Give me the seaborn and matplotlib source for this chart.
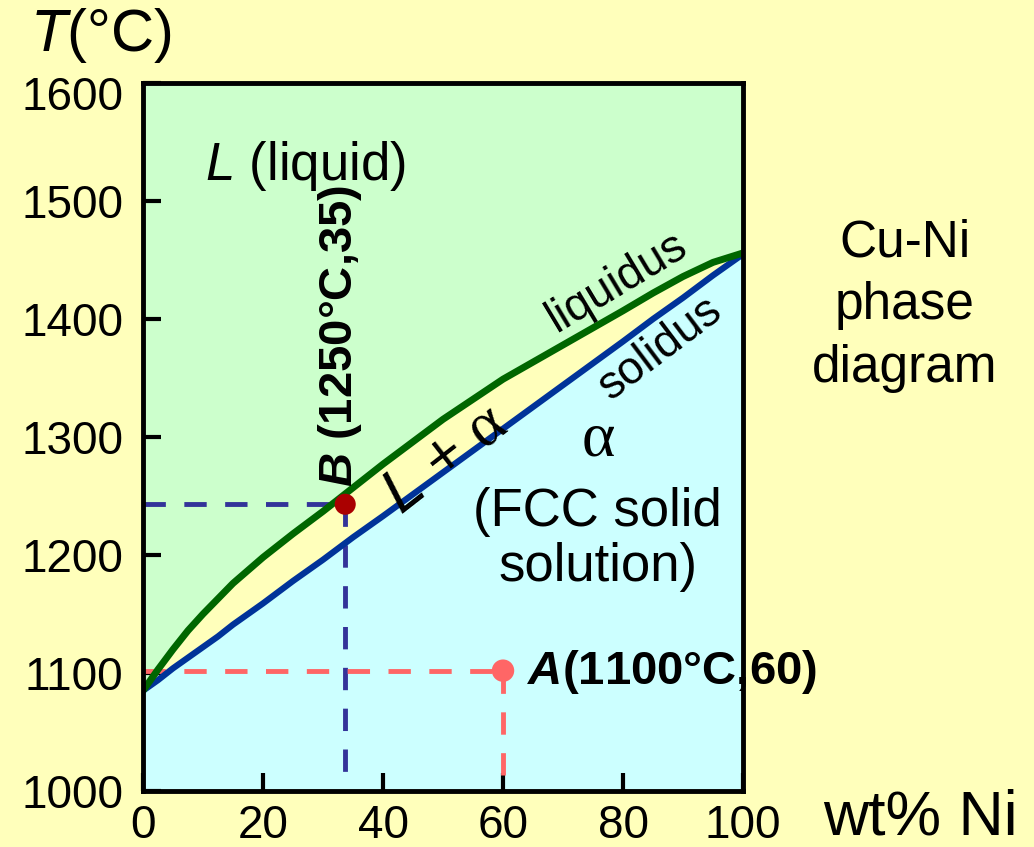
import matplotlib
matplotlib.use("Agg")
import matplotlib.pyplot as plt
import matplotlib.transforms as mtransforms
import seaborn as sns

# Cu-Ni phase diagram
wt_ni = [0, 2.5, 5, 7.5, 10, 12.5, 15, 17.5, 20, 25, 30, 35, 40, 50, 60, 70, 80, 85, 90, 95, 100]
liquidus_T = [1085, 1103, 1120, 1136, 1150, 1163, 1176, 1187, 1198, 1218, 1237, 1257, 1277,
              1315, 1349, 1378, 1407, 1422, 1436, 1448, 1456]
solidus_T = [1085, 1094, 1104, 1113, 1122, 1131, 1141, 1150, 1159, 1178, 1196, 1215, 1233,
             1270, 1307, 1344, 1381, 1400, 1418, 1437, 1455]

point_B = (33.7, 1243)
point_A = (60, 1102)

x_ticks = [0, 20, 40, 60, 80, 100]
y_ticks = [1000, 1100, 1200, 1300, 1400, 1500, 1600]

bg_yellow = "#FFFFBB"
liquid_green = "#CCFFCC"
solid_cyan = "#CCFFFF"

sns.set_style("ticks")
plt.rcParams["font.family"] = ["Liberation Sans", "DejaVu Sans"]
plt.rcParams["text.color"] = "black"
plt.rcParams["xtick.color"] = "black"
plt.rcParams["ytick.color"] = "black"
plt.rcParams["axes.edgecolor"] = "black"
plt.rcParams["mathtext.fontset"] = "custom"
plt.rcParams["mathtext.it"] = "Liberation Sans:italic"
plt.rcParams["mathtext.rm"] = "Liberation Serif"
plt.rcParams["mathtext.bfit"] = "Liberation Sans:italic:bold"

fig = plt.figure(figsize=(10.34, 8.47), dpi=100, facecolor=bg_yellow)
ax = fig.add_axes([0.1383, 0.0661, 0.5803, 0.8359])
ax.set_facecolor(bg_yellow)

# phase regions
ax.fill_between(wt_ni, liquidus_T, 1600, color=liquid_green, lw=0, zorder=0)
ax.fill_between(wt_ni, solidus_T, liquidus_T, color=bg_yellow, lw=0, zorder=0)
ax.fill_between(wt_ni, 1000, solidus_T, color=solid_cyan, lw=0, zorder=0)

# guide lines to points A and B
dash = (4.6, 3.8)
ax.plot([0, point_B[0]], [point_B[1], point_B[1]], color="#333399", lw=3.5,
        dashes=dash, zorder=2)
ax.plot([point_B[0], point_B[0]], [point_B[1], 1005], color="#333399", lw=3.5,
        dashes=dash, zorder=2)
ax.plot([0, point_A[0]], [point_A[1], point_A[1]], color="#FF6666", lw=3.5,
        dashes=dash, zorder=2)
ax.plot([point_A[0], point_A[0]], [point_A[1], 1000], color="#FF6666", lw=3.5,
        dashes=dash, zorder=2)

sns.lineplot(x=wt_ni, y=solidus_T, color="#003399", linewidth=4.5, ax=ax, zorder=3)
sns.lineplot(x=wt_ni, y=liquidus_T, color="#006600", linewidth=5, ax=ax, zorder=3)

sns.scatterplot(x=[point_B[0]], y=[point_B[1]], color="#AA0000", s=230,
                edgecolor="none", ax=ax, zorder=4)
sns.scatterplot(x=[point_A[0]], y=[point_A[1]], color="#FF6666", s=260,
                edgecolor="none", ax=ax, zorder=4)

ax.set_xlim(0, 100)
ax.set_ylim(1000, 1600)
ax.set_xticks(x_ticks)
ax.set_yticks(y_ticks)
ax.tick_params(direction="in", length=13, width=3, labelsize=33)
ax.tick_params(axis="x", pad=9)
ax.tick_params(axis="y", pad=14)
for side in ["left", "right", "top", "bottom"]:
    ax.spines[side].set_linewidth(3.5)
    ax.spines[side].set_zorder(5)
ax.set_xlabel("")
ax.set_ylabel("")

# the top label sits a little lower in the reference
fig.canvas.draw()
top_label = ax.get_yticklabels()[-1]
top_label.set_transform(top_label.get_transform() +
                        mtransforms.ScaledTranslation(0, -7 / 72, fig.dpi_scale_trans))

# labels inside the diagram
ax.text(27, 1530, r"$L$ (liquid)", fontsize=38, ha="center", va="center")
ax.text(32.9, 1386, r"$\mathbfit{B}$ (1250°C,35)", fontsize=34, fontweight="bold",
        rotation=90, ha="center", va="center")
ax.text(64, 1101, r"$\mathbfit{A}$(1100°C,60)", fontsize=34, fontweight="bold",
        ha="left", va="center")
ax.text(50.3, 1281, r"$L$ + $\mathrm{\alpha}$", fontsize=45, rotation=38,
        ha="center", va="center", rotation_mode="anchor")
ax.text(79, 1431, "liquidus", fontsize=33, rotation=31,
        ha="center", va="center", rotation_mode="anchor")
ax.text(86.2, 1375, "solidus", fontsize=33, rotation=37,
        ha="center", va="center", rotation_mode="anchor")
ax.text(75.8, 1297, "α", fontsize=46, family="Liberation Serif",
        ha="center", va="center")
ax.text(75.8, 1213, "(FCC solid\nsolution)", fontsize=38, ha="center",
        va="center", linespacing=1.12)

# labels outside the axes
fig.text(0.029, 0.958, r"$T$(°C)", fontsize=43, ha="left", va="center")
fig.text(0.796, 0.034, "wt% Ni", fontsize=45, ha="left", va="center")
fig.text(0.875, 0.639, "Cu-Ni\nphase\ndiagram", fontsize=37, ha="center",
         va="center", linespacing=1.35)

fig.savefig("out.png", dpi=100, facecolor=bg_yellow)
